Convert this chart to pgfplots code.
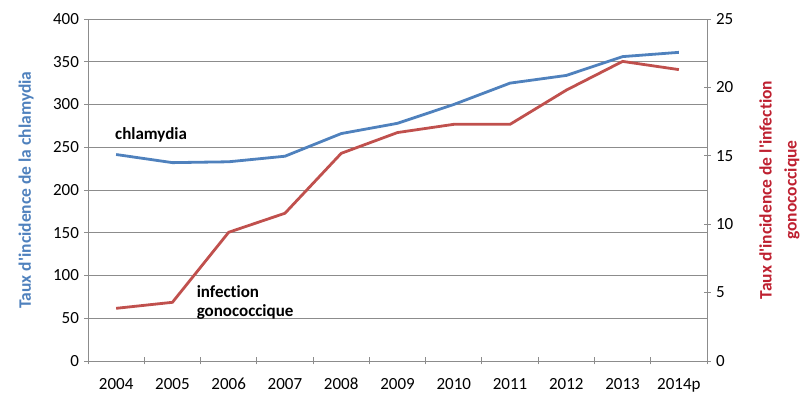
\documentclass[border=0pt]{standalone}
\usepackage{pgfplots}
\pgfplotsset{compat=1.18}
\usepackage{fontspec}
\setmainfont{Carlito}[Ligatures={TeXOff,NoCommon}]
\definecolor{cblue}{HTML}{4F81BD}
\definecolor{cred}{HTML}{C0504D}
\definecolor{credlab}{HTML}{BE2030}
\definecolor{gridc}{HTML}{8C8C8C}
\pgfplotsset{
  base/.style={
    at={(88pt,43pt)}, anchor=south west,
    width=619pt, height=342pt, scale only axis,
    xmin=-0.5, xmax=10.5,
    /pgf/number format/assume math mode=true,
    tick label style={font=\fontsize{17}{20}\selectfont, text=black},
    label style={font=\bfseries\fontsize{17.5}{21}\selectfont},
    tick align=outside,
    axis line style={gridc, line width=0.9pt},
  }
}
\begin{document}
\begin{tikzpicture}
\useasboundingbox (0,0) rectangle (811pt,404pt);
\begin{axis}[base,
  axis x line=bottom, axis y line=left,
  axis line style={-, gridc, line width=0.9pt},
  ymin=0, ymax=400, ytick={0,50,...,400},
  ymajorgrids, grid style={gridc, line width=0.9pt},
  xtick={0,...,10},
  xticklabels={2004,2005,2006,2007,2008,2009,2010,2011,2012,2013,2014p},
  major x tick style={draw=none},
  minor xtick={-0.5,0.5,...,10.5},
  minor x tick style={gridc, line width=0.9pt},
  minor tick length=7pt,
  major tick length=7pt,
  y tick style={gridc, line width=0.9pt},
  xticklabel style={yshift=-10pt},
  yticklabel style={xshift=-2pt},
  ylabel={Taux d'incidence de la chlamydia},
  ylabel style={at={(axis description cs:-0.100,0.5)}, anchor=center, text=cblue},
]
\addplot[cblue, line width=2.8pt] coordinates {
(0,241.5) (1,232) (2,233) (3,239.5) (4,266) (5,278) (6,300) (7,325) (8,334) (9,356) (10,361)};
\node[anchor=west, font=\bfseries\fontsize{17}{20}\selectfont] at (axis cs:-0.08,264) {chlamydia};
\node[anchor=west, font=\bfseries\fontsize{17}{20}\selectfont] at (axis cs:1.37,81) {infection};
\node[anchor=west, font=\bfseries\fontsize{17}{20}\selectfont] at (axis cs:1.37,57) {gonococcique};
\end{axis}
\begin{axis}[base,
  axis x line=none, axis y line=right,
  axis line style={-, gridc, line width=0.9pt},
  ymin=0, ymax=25, ytick={0,5,...,25},
  major tick length=7pt,
  y tick style={gridc, line width=0.9pt},
  yticklabel style={xshift=2pt},
  ylabel={Taux d'incidence de l'infection\\gonococcique},
  ylabel style={at={(axis description cs:1.117,0.5)}, anchor=center, align=center, rotate=0, text=credlab, font=\bfseries\fontsize{17.5}{25}\selectfont},
]
\addplot[cred, line width=2.8pt] coordinates {
(0,3.85) (1,4.29) (2,9.41) (3,10.8) (4,15.18) (5,16.7) (6,17.3) (7,17.3) (8,19.8) (9,21.9) (10,21.3)};
\end{axis}
\end{tikzpicture}
\end{document}
